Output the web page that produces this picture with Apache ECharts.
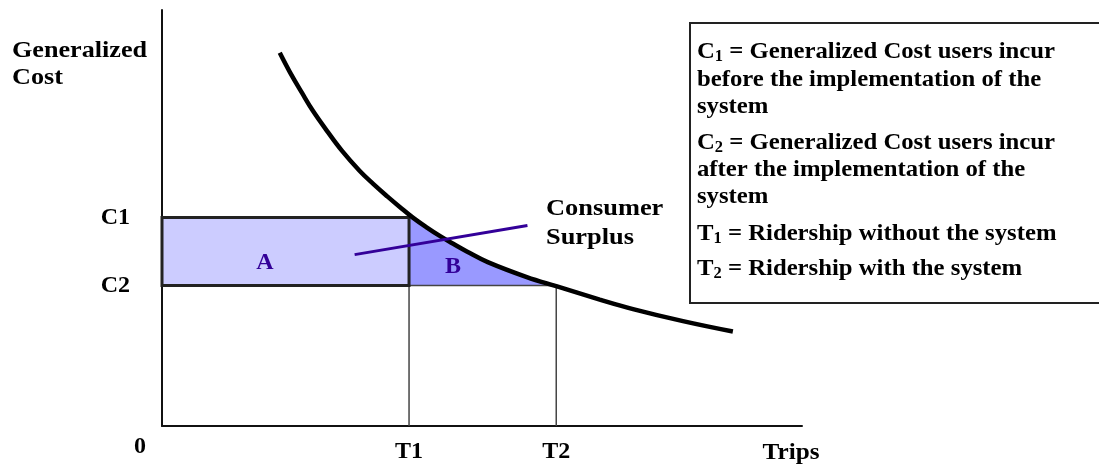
<!DOCTYPE html>
<html>
<head>
<meta charset="utf-8">
<title>Consumer surplus from a transit system</title>
<script src="https://cdn.jsdelivr.net/npm/echarts@6/dist/echarts.min.js"></script>
<style>
  html, body { margin: 0; padding: 0; background: #ffffff; }
  #chart { width: 1099px; height: 464px; }
</style>
</head>
<body>
<div id="chart"></div>
<script>
// Demand curve: generalized cost against number of trips (arbitrary units, 0-100)
const demandTrips = [18.4, 20.0, 21.9, 23.6, 25.8, 28.1, 30.9, 33.0, 35.2, 37.2, 39.2, 41.4, 43.4, 45.5, 47.7, 50.9, 57.0, 61.6, 68.4, 73.6, 81.4, 89.2];
const demandCost  = [89.7, 85.0, 80.0, 75.7, 70.9, 66.2, 61.3, 58.2, 55.2, 52.6, 50.1, 47.7, 45.7, 43.8, 41.9, 39.4, 35.8, 33.6, 30.4, 28.1, 25.2, 22.7];

// Ridership and generalized cost before / after the system
const T1 = 38.6, T2 = 61.6;
const C1 = 50.1, C2 = 33.8;

// Tick labels
const xTickValues = [T1, T2];
const xTickLabels = ['T1', 'T2'];
const yTickValues = [C1, C2];
const yTickLabels = ['C1', 'C2'];

// Leader line pointing at the consumer-surplus area
const pointerTrips = [30.1, 57.1];
const pointerCost  = [41.2, 48.2];

// Definitions box
const legendLines = [
  'C{sub|1} = Generalized Cost users incur',
  'before the implementation of the',
  'system',
  'C{sub|2} = Generalized Cost users incur',
  'after the implementation of the',
  'system',
  'T{sub|1} = Ridership without the system',
  'T{sub|2} = Ridership with the system'
];

const FONT = "'Liberation Serif', 'Times New Roman', serif";
const PURPLE = '#330099';

// Area A: rectangle between C1 and C2 up to the old ridership T1
const areaA = [[0, C1], [T1, C1], [T1, C2], [0, C2]];

// Area B: under the demand curve (capped at C1) between T1 and T2, above C2
function buildAreaB() {
  const pts = [[T1, C1]];
  for (let i = 1; i < demandTrips.length; i++) {
    const x0 = demandTrips[i - 1], y0 = demandCost[i - 1];
    const x1 = demandTrips[i], y1 = demandCost[i];
    if (y0 > C1 && y1 <= C1) {
      const t = (y0 - C1) / (y0 - y1);
      pts.push([x0 + t * (x1 - x0), C1]);
    }
    if (x1 > T1 && x1 < T2 && y1 <= C1) pts.push([x1, y1]);
  }
  pts.push([T2, C2]);
  pts.push([T1, C2]);
  return pts;
}
const areaB = buildAreaB();

function polygonSeries(name, points, style, z) {
  return {
    name: name,
    type: 'custom',
    coordinateSystem: 'cartesian2d',
    z: z,
    silent: true,
    data: [0],
    renderItem: function (params, api) {
      return {
        type: 'polygon',
        shape: { points: points.map(function (p) { return api.coord(p); }) },
        style: style
      };
    }
  };
}

function segment(name, data, color, width, z) {
  return {
    name: name,
    type: 'line',
    data: data,
    symbol: 'none',
    silent: true,
    z: z,
    lineStyle: { color: color, width: width },
    emphasis: { disabled: true }
  };
}

function boldText(text, x, y, opts) {
  opts = opts || {};
  return {
    type: 'text',
    x: x,
    y: y,
    z: 20,
    scaleX: opts.scaleX || 1,
    style: {
      text: text,
      fontFamily: FONT,
      fontWeight: 'bold',
      fontSize: opts.fontSize || 24,
      lineHeight: opts.lineHeight,
      fill: opts.fill || '#000',
      align: opts.align || 'left',
      verticalAlign: opts.verticalAlign || 'middle',
      rich: opts.rich
    }
  };
}

const chart = echarts.init(document.getElementById('chart'), null, { renderer: 'canvas' });

const subStyle = { sub: { fontFamily: FONT, fontWeight: 'bold', fontSize: 16, fill: '#000', padding: [9, 0, 0, 0] } };
const legendY = [52, 80, 107, 143, 170, 197, 234, 269];
const legendTextEls = legendLines.map(function (line, i) {
  return boldText(line, 697, legendY[i], { scaleX: 1.03, rich: subStyle });
});

const option = {
  animation: false,
  backgroundColor: '#ffffff',
  grid: { left: 162, right: 297, top: 10, bottom: 37, containLabel: false },
  xAxis: {
    type: 'value',
    min: 0,
    max: 100,
    axisLine: { show: true, onZero: false, lineStyle: { color: '#111', width: 2 } },
    axisTick: { show: false },
    splitLine: { show: false },
    axisLabel: {
      customValues: xTickValues,
      margin: 14,
      fontFamily: FONT,
      fontWeight: 'bold',
      fontSize: 24,
      color: '#000',
      formatter: function (v) {
        const i = xTickValues.indexOf(v);
        return i >= 0 ? xTickLabels[i] : '';
      }
    }
  },
  yAxis: {
    type: 'value',
    min: 0,
    max: 100,
    axisLine: { show: true, onZero: false, lineStyle: { color: '#111', width: 2 } },
    axisTick: { show: false },
    splitLine: { show: false },
    axisLabel: {
      customValues: yTickValues,
      margin: 32,
      padding: [12, 0, 0, 0],
      fontFamily: FONT,
      fontWeight: 'bold',
      fontSize: 24,
      color: '#000',
      formatter: function (v) {
        const i = yTickValues.indexOf(v);
        return i >= 0 ? yTickLabels[i] : '';
      }
    }
  },
  series: [
    polygonSeries('A', areaA, { fill: '#ccccff', stroke: 'none' }, 1),
    polygonSeries('B', areaB, { fill: '#9999ff', stroke: 'none' }, 1),
    segment('C2 level', [[0, C2], [T2, C2]], '#444', 1.5, 2),
    segment('T1 level', [[T1, C1], [T1, 0]], '#444', 1.5, 2),
    segment('T2 level', [[T2, C2], [T2, 0]], '#444', 1.5, 2),
    polygonSeries('A outline', areaA, { fill: 'none', stroke: '#222', lineWidth: 3 }, 3),
    {
      name: 'Demand',
      type: 'line',
      data: demandTrips.map(function (x, i) { return [x, demandCost[i]]; }),
      symbol: 'none',
      smooth: 0.4,
      silent: true,
      z: 5,
      lineStyle: { color: '#000', width: 4.5, cap: 'butt' },
      emphasis: { disabled: true }
    },
    segment('Pointer', pointerTrips.map(function (x, i) { return [x, pointerCost[i]]; }), PURPLE, 3, 6)
  ],
  graphic: [
    boldText('Generalized\nCost', 12, 37, { scaleX: 1.09, lineHeight: 27, verticalAlign: 'top' }),
    boldText('0', 140, 447, { align: 'center' }),
    boldText('Trips', 791, 453, { align: 'center', scaleX: 1.05 }),
    boldText('A', 265, 263, { align: 'center', fill: PURPLE }),
    boldText('B', 453, 267, { align: 'center', fill: PURPLE }),
    boldText('Consumer\nSurplus', 546, 194, { scaleX: 1.1, lineHeight: 29, verticalAlign: 'top' }),
    {
      type: 'rect', z: 19,
      shape: { x: 690, y: 23, width: 430, height: 280 },
      style: { fill: '#ffffff', stroke: '#222', lineWidth: 2 }
    }
  ].concat(legendTextEls)
};

chart.setOption(option);
</script>
</body>
</html>
